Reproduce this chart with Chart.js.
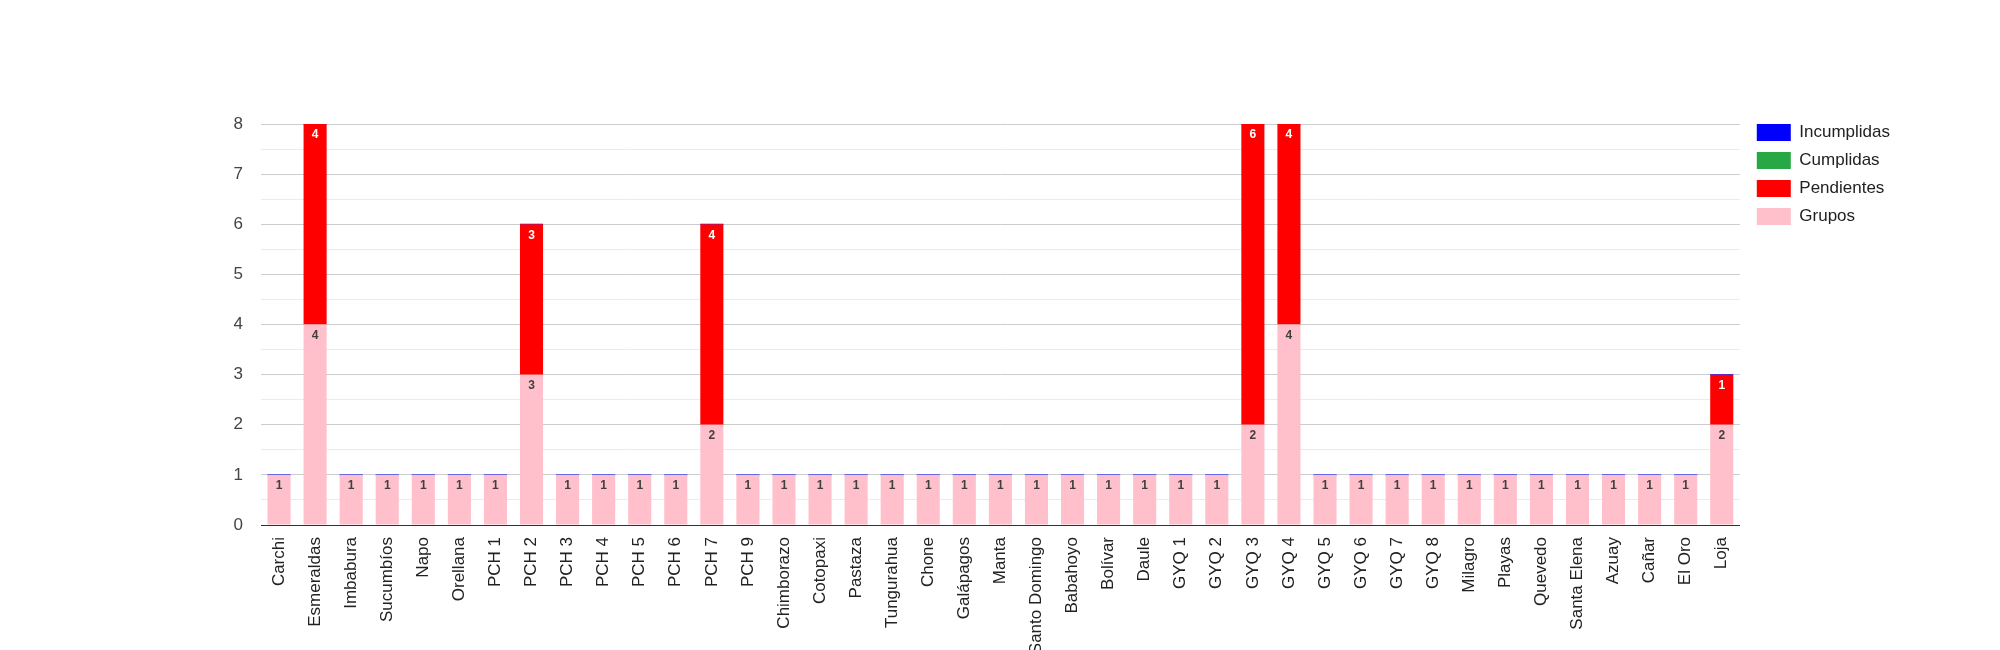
<!DOCTYPE html>
<html>
<head>
<meta charset="utf-8">
<script src="https://cdn.jsdelivr.net/npm/chart.js@4"></script>
<style>
  html, body { margin: 0; padding: 0; background: #fff; }
  .wrap { width: 2000px; height: 650px; position: relative; }
</style>
</head>
<body>
<div class="wrap"><canvas id="chart"></canvas></div>
<script>
const categories = ["Carchi", "Esmeraldas", "Imbabura", "Sucumbíos", "Napo", "Orellana", "PCH 1", "PCH 2", "PCH 3", "PCH 4", "PCH 5", "PCH 6", "PCH 7", "PCH 9", "Chimborazo", "Cotopaxi", "Pastaza", "Tungurahua", "Chone", "Galápagos", "Manta", "Santo Domingo", "Babahoyo", "Bolívar", "Daule", "GYQ 1", "GYQ 2", "GYQ 3", "GYQ 4", "GYQ 5", "GYQ 6", "GYQ 7", "GYQ 8", "Milagro", "Playas", "Quevedo", "Santa Elena", "Azuay", "Cañar", "El Oro", "Loja"];
const grupos      = [1, 4, 1, 1, 1, 1, 1, 3, 1, 1, 1, 1, 2, 1, 1, 1, 1, 1, 1, 1, 1, 1, 1, 1, 1, 1, 1, 2, 4, 1, 1, 1, 1, 1, 1, 1, 1, 1, 1, 1, 2];
const pendientes  = [0, 4, 0, 0, 0, 0, 0, 3, 0, 0, 0, 0, 4, 0, 0, 0, 0, 0, 0, 0, 0, 0, 0, 0, 0, 0, 0, 6, 4, 0, 0, 0, 0, 0, 0, 0, 0, 0, 0, 0, 1];
const cumplidas   = [0, 0, 0, 0, 0, 0, 0, 0, 0, 0, 0, 0, 0, 0, 0, 0, 0, 0, 0, 0, 0, 0, 0, 0, 0, 0, 0, 0, 0, 0, 0, 0, 0, 0, 0, 0, 0, 0, 0, 0, 0];
const incumplidas = [0, 0, 0, 0, 0, 0, 0, 0, 0, 0, 0, 0, 0, 0, 0, 0, 0, 0, 0, 0, 0, 0, 0, 0, 0, 0, 0, 0, 0, 0, 0, 0, 0, 0, 0, 0, 0, 0, 0, 0, 0];

const FONT = "'Liberation Sans', Arial, sans-serif";

// value labels inside the top of each segment
const barLabels = {
  id: "barLabels",
  afterDatasetsDraw(chart) {
    const { ctx } = chart;
    ctx.save();
    ctx.font = "bold 12px " + FONT;
    ctx.textAlign = "center";
    ctx.textBaseline = "middle";
    chart.data.datasets.forEach((ds, i) => {
      if (!ds.showValues) return;
      const meta = chart.getDatasetMeta(i);
      meta.data.forEach((bar, j) => {
        const v = ds.data[j];
        if (!v) return;
        ctx.fillStyle = ds.valueColor;
        ctx.fillText(String(v), bar.x, bar.y + 11);
      });
    });
    ctx.restore();
  }
};

// legend sits a little off the plot edge and level with the top gridline
const legendNudge = {
  id: "legendNudge",
  afterLayout(chart) {
    const lg = chart.legend;
    if (!lg) return;
    lg.left += 6; lg.right += 6;
    lg.top -= 11; lg.bottom -= 11;
  }
};

new Chart(document.getElementById("chart"), {
  type: "bar",
  data: {
    labels: categories,
    datasets: [
      { label: "Grupos", data: grupos, backgroundColor: "#ffc0cb", showValues: true, valueColor: "#404040" },
      { label: "Pendientes", data: pendientes, backgroundColor: "#ff0000", showValues: true, valueColor: "#ffffff" },
      { label: "Cumplidas", data: cumplidas, backgroundColor: "#28a745" },
      { label: "Incumplidas", data: incumplidas, backgroundColor: "#0000ff", minBarLength: 1 }
    ]
  },
  options: {
    responsive: true,
    maintainAspectRatio: false,
    animation: false,
    barPercentage: 0.64,
    categoryPercentage: 1,
    layout: { padding: { top: 124, right: 106, bottom: 0, left: 0 } },
    plugins: {
      legend: {
        position: "right",
        align: "start",
        reverse: true,
        labels: {
          boxWidth: 34,
          boxHeight: 17,
          padding: 11,
          color: "#222",
          font: { family: FONT, size: 17 }
        }
      },
      tooltip: { enabled: false }
    },
    scales: {
      x: {
        stacked: true,
        grid: { display: false, drawTicks: false },
        border: { display: true, color: "#333", width: 1 },
        ticks: {
          autoSkip: false,
          minRotation: 90,
          maxRotation: 90,
          padding: 12,
          color: "#222",
          font: { family: FONT, size: 17 }
        },
        afterFit(scale) { scale.height = 125; }
      },
      y: {
        stacked: true,
        min: 0,
        max: 8,
        grid: {
          drawTicks: false,
          color: (c) => (c.tick.value === 0 ? "#333" : Number.isInteger(c.tick.value) ? "#cccccc" : "#ebebeb")
        },
        border: { display: false },
        ticks: {
          stepSize: 0.5,
          padding: 18,
          color: "#444",
          font: { family: FONT, size: 17 },
          callback: (v) => (Number.isInteger(v) ? v : "")
        },
        afterFit(scale) { scale.width = 261; }
      }
    }
  },
  plugins: [barLabels, legendNudge]
});
</script>
</body>
</html>
